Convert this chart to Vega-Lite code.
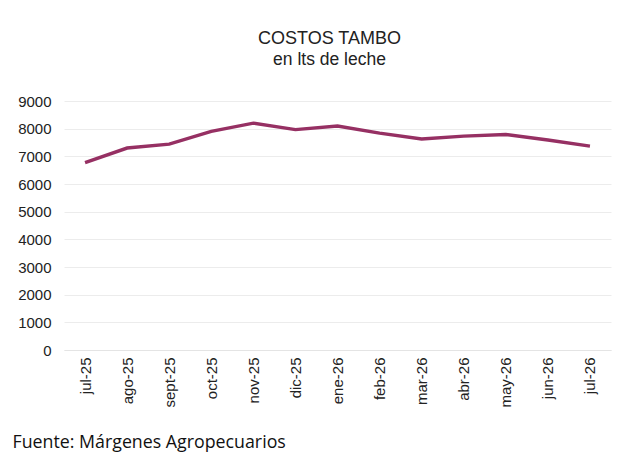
{
  "$schema": "https://vega.github.io/schema/vega-lite/v6.json",
  "autosize": {"type": "none"},
  "padding": {"left": 64, "top": 101, "right": 29, "bottom": 105},
  "width": 547,
  "height": 249,
  "background": "white",
  "title": {
    "text": "COSTOS TAMBO",
    "subtitle": "en lts de leche",
    "anchor": "middle",
    "dx": -8,
    "offset": 26,
    "font": "Liberation Sans",
    "fontSize": 18,
    "fontWeight": "normal",
    "color": "#222222",
    "subtitleFont": "Liberation Sans",
    "subtitleFontSize": 17.5,
    "subtitleColor": "#222222",
    "subtitlePadding": 3
  },
  "data": {
    "values": [
      {"mes": "jul-25", "costo": 6770},
      {"mes": "ago-25", "costo": 7300},
      {"mes": "sept-25", "costo": 7440},
      {"mes": "oct-25", "costo": 7900},
      {"mes": "nov-25", "costo": 8200},
      {"mes": "dic-25", "costo": 7965},
      {"mes": "ene-26", "costo": 8095},
      {"mes": "feb-26", "costo": 7840},
      {"mes": "mar-26", "costo": 7625},
      {"mes": "abr-26", "costo": 7730},
      {"mes": "may-26", "costo": 7790},
      {"mes": "jun-26", "costo": 7590},
      {"mes": "jul-26", "costo": 7370}
    ]
  },
  "mark": {"type": "line", "color": "#963063", "strokeWidth": 3.4},
  "encoding": {
    "x": {
      "field": "mes",
      "type": "ordinal",
      "sort": null,
      "scale": {"type": "point", "padding": 0.5},
      "axis": {
        "title": "Fuente: Márgenes Agropecuarios",
        "titleFont": "Open Sans",
        "titleFontSize": 17.8,
        "titleFontWeight": "normal",
        "titleColor": "#111111",
        "titleAnchor": "start",
        "titleAlign": "left",
        "titleBaseline": "alphabetic",
        "titleX": -52,
        "titleY": 97,
        "labelAngle": -90,
        "labelFont": "Liberation Sans",
        "labelFontSize": 15,
        "labelColor": "#222222",
        "labelPadding": 7,
        "ticks": false,
        "domain": true,
        "domainColor": "#e4e4e4",
        "grid": false
      }
    },
    "y": {
      "field": "costo",
      "type": "quantitative",
      "scale": {"domain": [0, 9000]},
      "axis": {
        "title": null,
        "values": [0, 1000, 2000, 3000, 4000, 5000, 6000, 7000, 8000, 9000],
        "format": "d",
        "labelFont": "Liberation Sans",
        "labelFontSize": 15,
        "labelColor": "#222222",
        "labelPadding": 13,
        "ticks": false,
        "domain": false,
        "grid": true,
        "gridColor": "#ececec",
        "gridWidth": 1
      }
    }
  },
  "config": {"view": {"stroke": null}}
}
